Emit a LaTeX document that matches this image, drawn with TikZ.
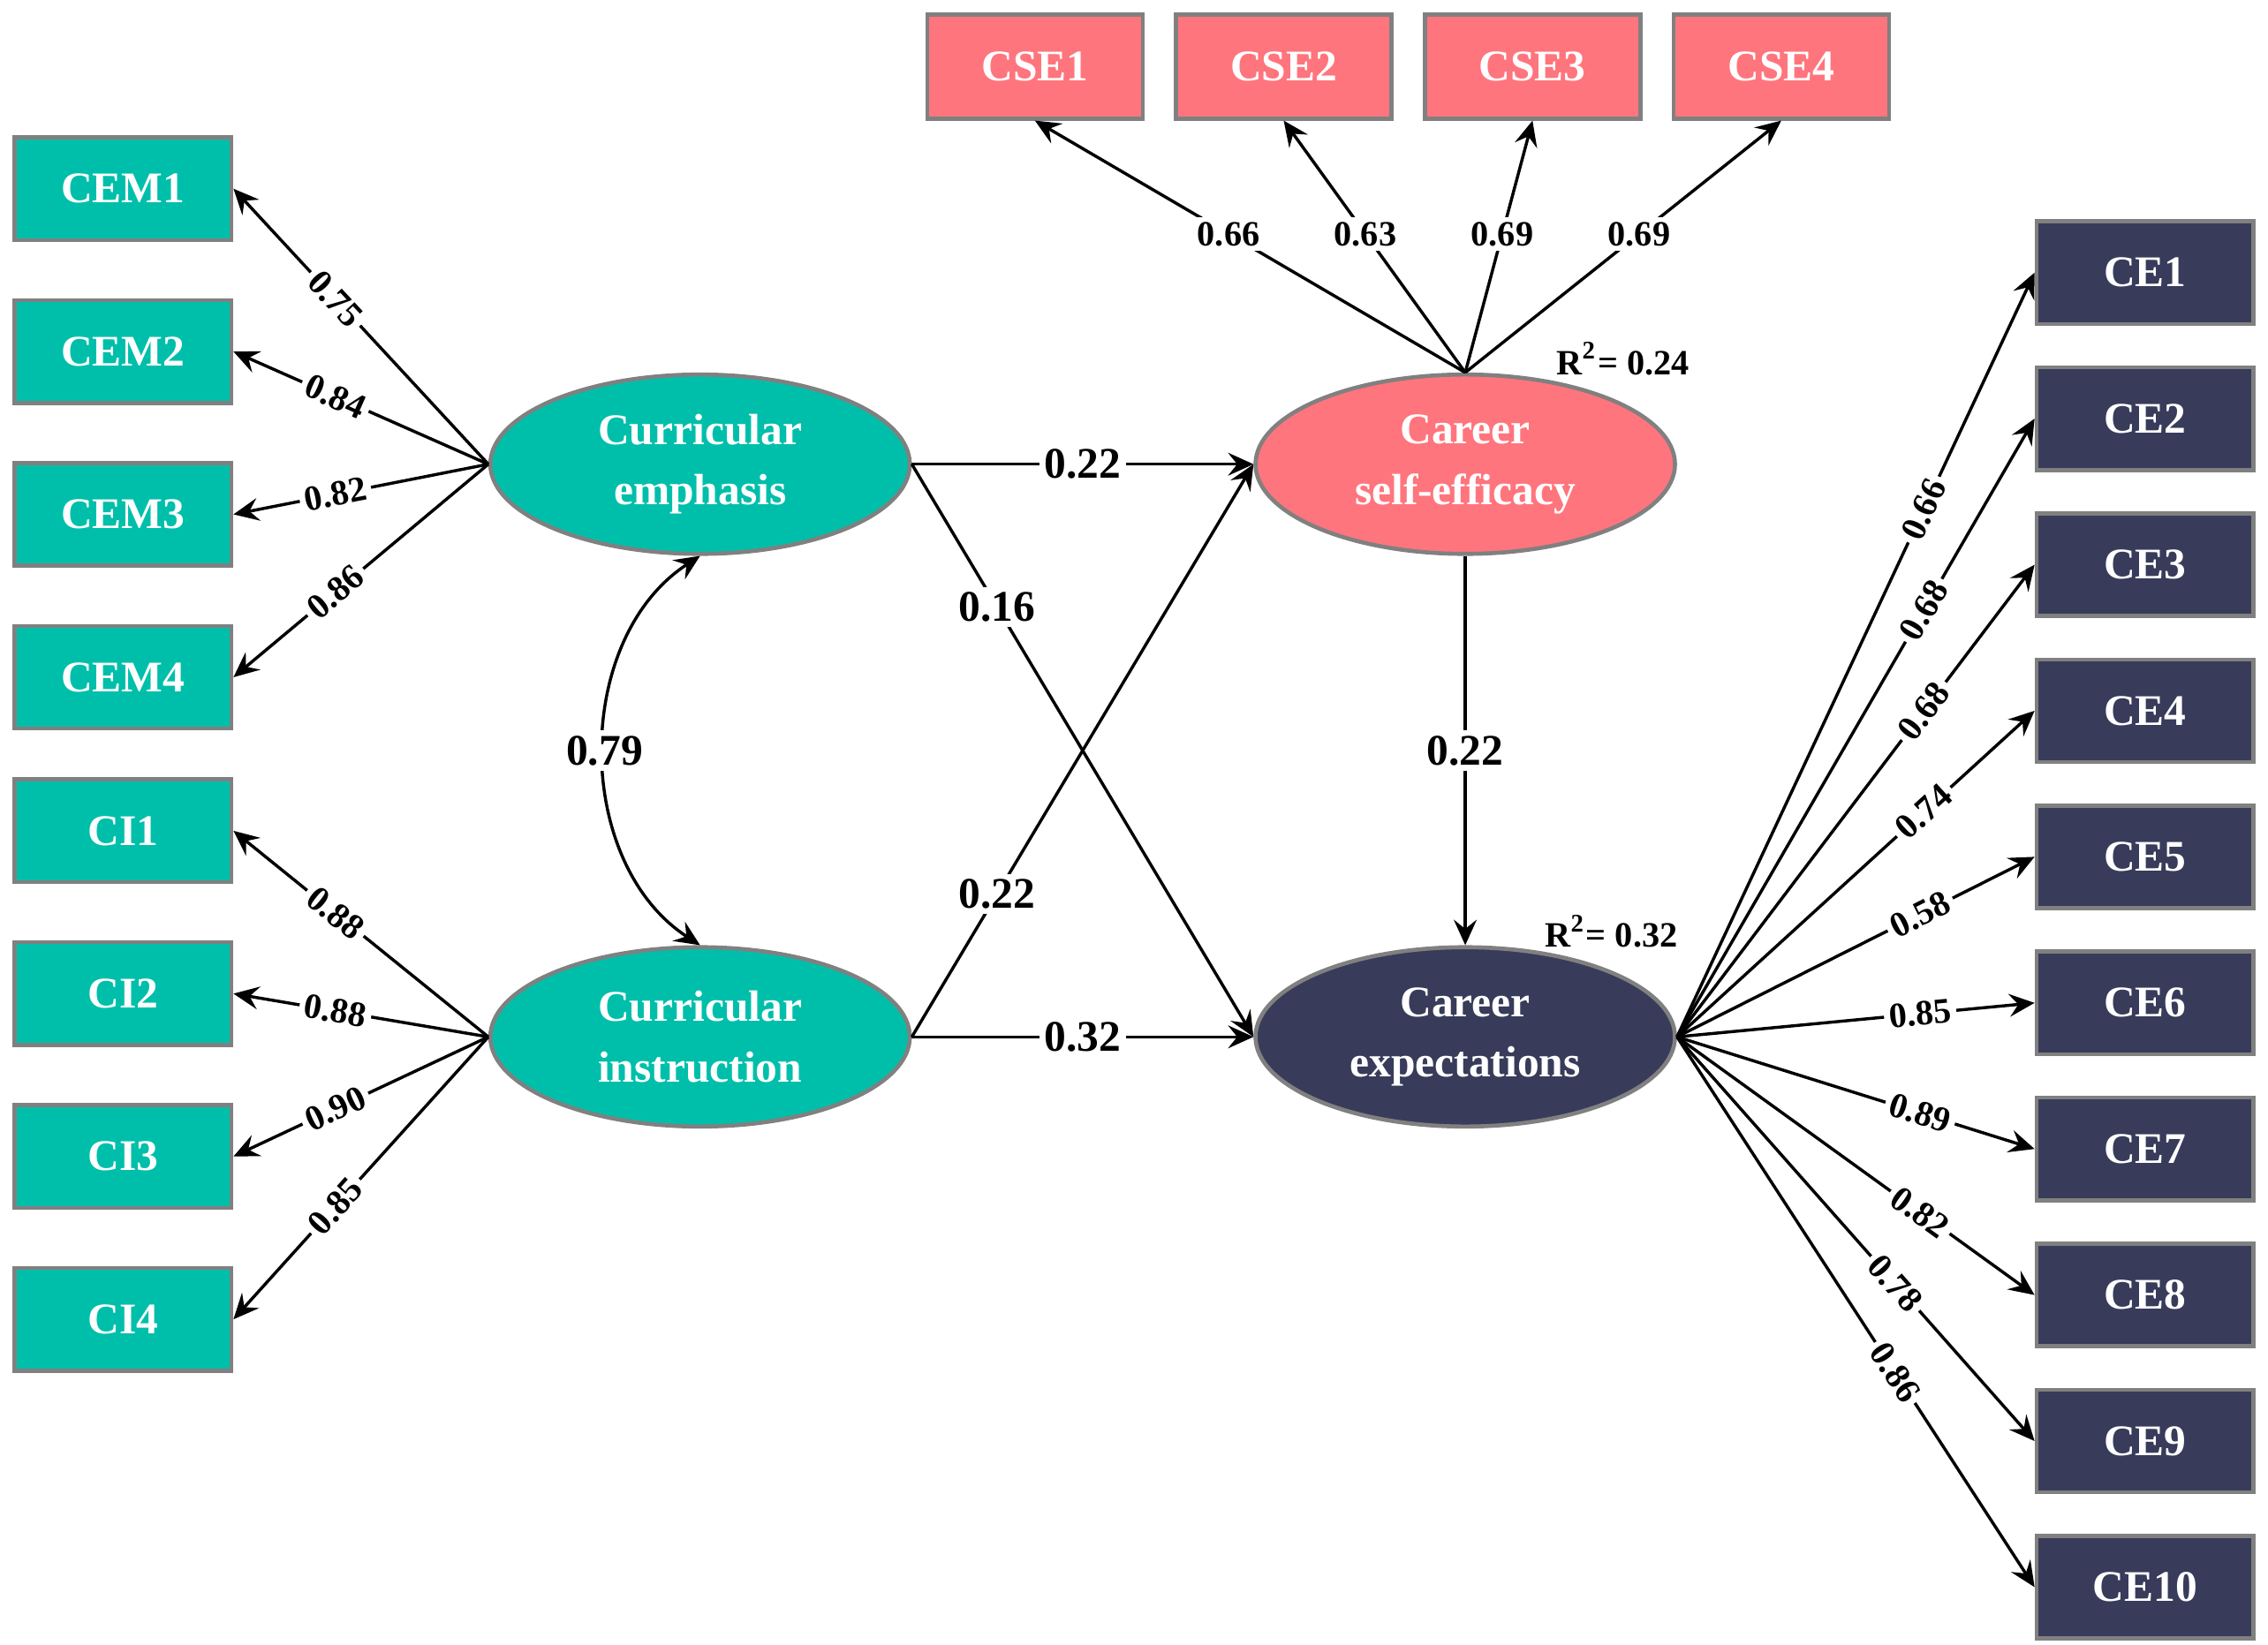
\documentclass[tikz,border=0pt]{standalone}
\usepackage{fontspec}
\setmainfont{Liberation Serif}
\usetikzlibrary{shapes,arrows.meta}
\definecolor{verde}{RGB}{0,191,170}
\definecolor{rosa}{RGB}{255,117,125}
\definecolor{blu}{RGB}{56,60,90}
\definecolor{bordo}{RGB}{128,128,128}

\begin{document}
\begin{tikzpicture}[node distance=1.126cm,
	scatola/.style={draw=bordo, line width=0.8pt, minimum width=1.5cm, minimum height=0.71cm, inner sep=0pt, text=white, font=\bfseries\fontsize{8.6}{10}\selectfont},
	tondo/.style={ellipse, draw=bordo, line width=0.8pt, minimum width=2.9cm, minimum height=1.24cm, inner sep=0pt, text=white, align=center, font=\bfseries\fontsize{8.6}{11.9}\selectfont},
	freccia/.style={-{Stealth[length=5pt,width=4.5pt,inset=1.8pt]}, line width=0.6pt},
	peso/.style={fill=white, inner sep=1pt, font=\bfseries\fontsize{7}{8}\selectfont},
	coeff/.style={fill=white, inner sep=1pt, font=\bfseries\fontsize{8.6}{10}\selectfont}]
\useasboundingbox (0,0) rectangle (15.68,-11.375);
% latenti
\node[tondo, fill=verde] (CEm) at (4.84,-3.21) {Curricular\\emphasis};
\node[tondo, fill=verde] (CIn) at (4.84,-7.17) {Curricular\\instruction};
\node[tondo, fill=rosa] (CSE) at (10.13,-3.21) {Career\\self-efficacy};
\node[tondo, fill=blu] (CEx) at (10.13,-7.17) {Career\\expectations};
% indicatori a sinistra
\node[scatola, fill=verde] (CEM1) at (0.85,-1.305) {CEM1};
\node[scatola, fill=verde, below of=CEM1] (CEM2) {CEM2};
\node[scatola, fill=verde, below of=CEM2] (CEM3) {CEM3};
\node[scatola, fill=verde, below of=CEM3] (CEM4) {CEM4};
\node[scatola, fill=verde] (CI1) at (0.85,-5.745) {CI1};
\node[scatola, fill=verde, below of=CI1] (CI2) {CI2};
\node[scatola, fill=verde, below of=CI2] (CI3) {CI3};
\node[scatola, fill=verde, below of=CI3] (CI4) {CI4};
% indicatori in alto
\node[scatola, fill=rosa, minimum width=1.49cm, minimum height=0.72cm] (CSE1) at (7.155,-0.46) {CSE1};
\node[scatola, fill=rosa, minimum width=1.49cm, minimum height=0.72cm, right of=CSE1, node distance=1.72cm] (CSE2) {CSE2};
\node[scatola, fill=rosa, minimum width=1.49cm, minimum height=0.72cm, right of=CSE2, node distance=1.72cm] (CSE3) {CSE3};
\node[scatola, fill=rosa, minimum width=1.49cm, minimum height=0.72cm, right of=CSE3, node distance=1.72cm] (CSE4) {CSE4};
% indicatori a destra
\node[scatola, fill=blu] (CE1) at (14.83,-1.885) {CE1};
\node[scatola, fill=blu, below of=CE1, node distance=1.01cm] (CE2) {CE2};
\node[scatola, fill=blu, below of=CE2, node distance=1.01cm] (CE3) {CE3};
\node[scatola, fill=blu, below of=CE3, node distance=1.01cm] (CE4) {CE4};
\node[scatola, fill=blu, below of=CE4, node distance=1.01cm] (CE5) {CE5};
\node[scatola, fill=blu, below of=CE5, node distance=1.01cm] (CE6) {CE6};
\node[scatola, fill=blu, below of=CE6, node distance=1.01cm] (CE7) {CE7};
\node[scatola, fill=blu, below of=CE7, node distance=1.01cm] (CE8) {CE8};
\node[scatola, fill=blu, below of=CE8, node distance=1.01cm] (CE9) {CE9};
\node[scatola, fill=blu, below of=CE9, node distance=1.01cm] (CE10) {CE10};
% R quadro
\node[font=\bfseries\fontsize{7}{8}\selectfont] (R2a) at (11.22,-2.48) {R\textsuperscript{2}= 0.24};
\node[font=\bfseries\fontsize{7}{8}\selectfont] (R2b) at (11.14,-6.44) {R\textsuperscript{2}= 0.32};
% carichi
\draw[freccia] (CEm.west) -- node[peso,sloped,pos=0.6]{0.75} (CEM1.east);
\draw[freccia] (CEm.west) -- node[peso,sloped,pos=0.6]{0.84} (CEM2.east);
\draw[freccia] (CEm.west) -- node[peso,sloped,pos=0.6]{0.82} (CEM3.east);
\draw[freccia] (CEm.west) -- node[peso,sloped,pos=0.6]{0.86} (CEM4.east);
\draw[freccia] (CIn.west) -- node[peso,sloped,pos=0.6]{0.88} (CI1.east);
\draw[freccia] (CIn.west) -- node[peso,sloped,pos=0.6]{0.88} (CI2.east);
\draw[freccia] (CIn.west) -- node[peso,sloped,pos=0.6]{0.90} (CI3.east);
\draw[freccia] (CIn.west) -- node[peso,sloped,pos=0.6]{0.85} (CI4.east);
\draw[freccia] (CSE.north) -- node[peso,pos=0.55]{0.66} (CSE1.south);
\draw[freccia] (CSE.north) -- node[peso,pos=0.55]{0.63} (CSE2.south);
\draw[freccia] (CSE.north) -- node[peso,pos=0.55]{0.69} (CSE3.south);
\draw[freccia] (CSE.north) -- node[peso,pos=0.55]{0.69} (CSE4.south);
\draw[freccia] (CEx.east) -- node[peso,sloped,pos=0.69]{0.66} (CE1.west);
\draw[freccia] (CEx.east) -- node[peso,sloped,pos=0.69]{0.68} (CE2.west);
\draw[freccia] (CEx.east) -- node[peso,sloped,pos=0.69]{0.68} (CE3.west);
\draw[freccia] (CEx.east) -- node[peso,sloped,pos=0.69]{0.74} (CE4.west);
\draw[freccia] (CEx.east) -- node[peso,sloped,pos=0.68]{0.58} (CE5.west);
\draw[freccia] (CEx.east) -- node[peso,sloped,pos=0.68]{0.85} (CE6.west);
\draw[freccia] (CEx.east) -- node[peso,sloped,pos=0.68]{0.89} (CE7.west);
\draw[freccia] (CEx.east) -- node[peso,sloped,pos=0.68]{0.82} (CE8.west);
\draw[freccia] (CEx.east) -- node[peso,sloped,pos=0.61]{0.78} (CE9.west);
\draw[freccia] (CEx.east) -- node[peso,sloped,pos=0.61]{0.86} (CE10.west);
% percorsi strutturali
\draw[freccia] (CEm.east) -- node[coeff]{0.22} (CSE.west);
\draw[freccia] (CEm.east) -- node[coeff,pos=0.25]{0.16} (CEx.west);
\draw[freccia] (CIn.east) -- node[coeff,pos=0.25]{0.22} (CSE.west);
\draw[freccia] (CIn.east) -- node[coeff]{0.32} (CEx.west);
\draw[freccia] (CSE.south) -- node[coeff]{0.22} (CEx.north);
\draw[{Stealth[length=5pt,width=4.5pt,inset=1.8pt]}-{Stealth[length=5pt,width=4.5pt,inset=1.8pt]}, line width=0.6pt] (CEm.south) to[bend right=57] node[coeff]{0.79} (CIn.north);
\end{tikzpicture}
\end{document}
